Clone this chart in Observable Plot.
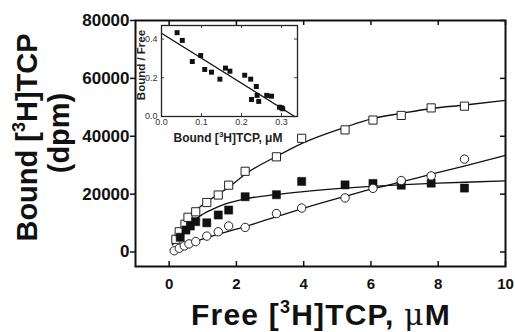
<!DOCTYPE html>
<html><head><meta charset="utf-8">
<script src="https://cdn.jsdelivr.net/npm/d3@7"></script>
<script src="https://cdn.jsdelivr.net/npm/@observablehq/plot@0.6"></script>
<style>
html,body{margin:0;padding:0;background:#fff;}
#wrap{position:relative;width:515px;height:332px;font-family:"Liberation Sans",Arial,sans-serif;}
#wrap svg{position:absolute;overflow:visible;}
</style></head><body>
<div id="wrap"></div>
<script>
// ---- main chart data ----
const xTicks = [0, 2, 4, 6, 8, 10];
const yTicks = [0, 20000, 40000, 60000, 80000];

const totalX = [0.2, 0.3, 0.47, 0.56, 0.79, 1.12, 1.46, 1.77, 2.26, 3.19, 3.94, 5.23, 6.06, 6.90, 7.79, 8.78];
const totalY = [4400, 7000, 9600, 12000, 13900, 17100, 19700, 23100, 27900, 32900, 39300, 42200, 45600, 47200, 49800, 50400];

const specificX = [0.33, 0.5, 0.63, 0.79, 1.12, 1.46, 1.77, 2.26, 3.19, 3.94, 5.23, 6.06, 6.90, 7.79, 8.78];
const specificY = [5100, 7600, 9000, 10500, 10100, 12800, 14500, 19100, 19800, 24400, 23200, 23700, 23100, 23800, 22100];

const nonspecX = [0.15, 0.3, 0.45, 0.59, 0.79, 1.12, 1.46, 1.77, 2.26, 3.19, 3.94, 5.23, 6.06, 6.90, 7.79, 8.78];
const nonspecY = [450, 1300, 2100, 2800, 3600, 5500, 7000, 9000, 8500, 13300, 15200, 18700, 22000, 24700, 26300, 32100];

// fitted curves
const totalFitX = [0.1, 0.3, 0.56, 0.8, 1.1, 1.5, 1.8, 2.26, 3.2, 4, 5.25, 6.04, 6.9, 7.8, 8.8, 10];
const totalFitY = [3000, 7000, 11900, 14500, 17200, 20300, 22600, 26900, 33100, 37800, 43200, 46100, 47900, 49600, 50800, 52400];
const specificFitX = [0.1, 0.35, 0.64, 0.9, 1.24, 1.7, 2.23, 3.2, 4, 5, 6, 7, 8, 9, 10];
const specificFitY = [2500, 5300, 9800, 12300, 14500, 16700, 18300, 19900, 20900, 21900, 22700, 23300, 23800, 24200, 24600];
const nonspecFitX = [0.07, 0.5, 1.12, 2.26, 3.19, 3.96, 5.25, 6.04, 6.9, 7.8, 8.8, 10];
const nonspecFitY = [200, 2400, 5000, 8800, 12200, 15000, 19300, 21800, 24200, 26900, 29800, 33400];

// ---- inset (Scatchard) data ----
const insetXTicks = [0, 0.1, 0.2, 0.3];
const insetYTicks = [0, 0.2, 0.4];
const boundX = [0.039, 0.052, 0.077, 0.098, 0.108, 0.125, 0.146, 0.16, 0.171, 0.208, 0.223, 0.237, 0.225, 0.239, 0.243, 0.263, 0.275, 0.295, 0.30, 0.303];
const ratioY = [0.433, 0.393, 0.284, 0.315, 0.243, 0.229, 0.193, 0.25, 0.234, 0.213, 0.193, 0.155, 0.088, 0.109, 0.078, 0.109, 0.105, 0.048, 0.045, 0.04];
const fitLineX = [0, 0.333];
const fitLineY = [0.43, 0];

const zip = (xs, ys) => xs.map((x, i) => ({x, y: ys[i]}));
const FONT = "Liberation Sans, Arial, sans-serif";

const W = 515, H = 332, mL = 135, mR = 10, mT = 20, mB = 66;
const fw = W - mL - mR, fh = H - mT - mB;

const main = Plot.plot({
  width: W, height: H,
  marginLeft: mL, marginRight: mR, marginTop: mT, marginBottom: mB,
  x: {domain: [-1, 10]},
  y: {domain: [-5000, 80000]},
  style: {fontFamily: FONT, background: "transparent", color: "#111"},
  marks: [
    Plot.axisY(yTicks, {anchor: "left", tickSize: 5, tickPadding: 1, fontSize: 17, fontWeight: "bold", label: null, strokeWidth: 1.5, tickFormat: d => String(d)}),
    Plot.axisX(xTicks, {anchor: "bottom", tickSize: 0, tickPadding: 12, fontSize: 15, fontWeight: "bold", label: null, tickFormat: d => String(d)}),
    Plot.tickX(xTicks, {x: d => d, insetTop: fh - 5, strokeWidth: 1.5}),
    Plot.tickX(xTicks, {x: d => d, insetBottom: fh - 5, strokeWidth: 1.5}),
    Plot.tickY(yTicks, {y: d => d, insetLeft: fw - 5, strokeWidth: 1.5}),
    Plot.line(zip(totalFitX, totalFitY), {x: "x", y: "y", curve: "monotone-x", stroke: "#111", strokeWidth: 1.3}),
    Plot.line(zip(specificFitX, specificFitY), {x: "x", y: "y", curve: "monotone-x", stroke: "#111", strokeWidth: 1.3}),
    Plot.line(zip(nonspecFitX, nonspecFitY), {x: "x", y: "y", curve: "monotone-x", stroke: "#111", strokeWidth: 1.3}),
    Plot.dot(zip(totalX, totalY), {x: "x", y: "y", symbol: "square", r: 4.6, fill: "white", stroke: "#222", strokeWidth: 1}),
    Plot.dot(zip(specificX, specificY), {x: "x", y: "y", symbol: "square", r: 4.6, fill: "#111", stroke: "#111", strokeWidth: 0.5}),
    Plot.dot(zip(nonspecX, nonspecY), {x: "x", y: "y", symbol: "circle", r: 4.2, fill: "white", stroke: "#222", strokeWidth: 1}),
    Plot.frame({strokeWidth: 2, stroke: "#111"})
  ]
});
main.style.left = "0px"; main.style.top = "0px";
document.getElementById("wrap").appendChild(main);

// axis titles
const ms = d3.select(main);
const yt = ms.append("text").attr("transform", "translate(37,137.5) rotate(-90)")
  .attr("text-anchor", "middle").attr("font-family", FONT).attr("font-weight", "bold")
  .attr("font-size", 29).attr("fill", "#111");
yt.append("tspan").text("Bound [");
yt.append("tspan").attr("font-size", 18).attr("dy", -12).text("3");
yt.append("tspan").attr("dy", 12).text("H]TCP");
ms.append("text").attr("transform", "translate(69,133) rotate(-90)")
  .attr("text-anchor", "middle").attr("font-family", FONT).attr("font-weight", "bold")
  .attr("font-size", 29).attr("fill", "#111").text("(dpm)");
const xt = ms.append("text").attr("x", 321).attr("y", 325)
  .attr("text-anchor", "middle").attr("font-family", FONT).attr("font-weight", "bold")
  .attr("font-size", 30).attr("letter-spacing", 1.2).attr("fill", "#111");
xt.append("tspan").text("Free [");
xt.append("tspan").attr("font-size", 18).attr("dy", -12).text("3");
xt.append("tspan").attr("dy", 12).text("H]TCP, ");
xt.append("tspan").attr("font-family", "DejaVu Serif, serif").attr("font-weight", "normal").text("\u03BC");
xt.append("tspan").text("M");

// ---- inset ----
const iW = 175, iH = 125, iL = 31, iR = 8, iT = 5, iB = 29;
const ifw = iW - iL - iR, ifh = iH - iT - iB;
const inset = Plot.plot({
  width: iW, height: iH,
  marginLeft: iL, marginRight: iR, marginTop: iT, marginBottom: iB,
  x: {domain: [0, 0.34]},
  y: {domain: [0, 0.47]},
  style: {fontFamily: FONT, background: "transparent", color: "#333"},
  marks: [
    Plot.frame({fill: "white", stroke: "none"}),
    Plot.axisX(insetXTicks, {anchor: "bottom", tickSize: 0, tickPadding: 2, fontSize: 9, label: null, tickFormat: d => d.toFixed(1)}),
    Plot.axisY(insetYTicks, {anchor: "left", tickSize: 0, tickPadding: 4, fontSize: 9, label: null, tickFormat: d => d.toFixed(1)}),
    Plot.tickX(insetXTicks, {x: d => d, insetTop: ifh - 3, stroke: "#444"}),
    Plot.tickX(insetXTicks, {x: d => d, insetBottom: ifh - 3, stroke: "#444"}),
    Plot.tickY(insetYTicks, {y: d => d, insetRight: ifw - 3, stroke: "#444"}),
    Plot.tickY(insetYTicks, {y: d => d, insetLeft: ifw - 3, stroke: "#444"}),
    Plot.line(zip(fitLineX, fitLineY), {x: "x", y: "y", stroke: "#111", strokeWidth: 1.3}),
    Plot.dot(zip(boundX, ratioY), {x: "x", y: "y", symbol: "square", r: 2.8, fill: "#111", stroke: "none"}),
    Plot.frame({stroke: "#222", strokeWidth: 1.3})
  ]
});
inset.style.left = "130px"; inset.style.top = "20px";
document.getElementById("wrap").appendChild(inset);
const is = d3.select(inset);
const ixt = is.append("text").attr("x", 98).attr("y", 122)
  .attr("text-anchor", "middle").attr("font-family", FONT).attr("font-weight", "bold")
  .attr("font-size", 12).attr("fill", "#222");
ixt.append("tspan").text("Bound [");
ixt.append("tspan").attr("font-size", 8).attr("dy", -5).text("3");
ixt.append("tspan").attr("dy", 5).text("H]TCP, \u03BCM");
is.append("text").attr("transform", "translate(15,45) rotate(-90)")
  .attr("text-anchor", "middle").attr("font-family", FONT).attr("font-weight", "bold")
  .attr("font-size", 11.5).attr("fill", "#222").text("Bound / Free");
</script>
</body></html>
